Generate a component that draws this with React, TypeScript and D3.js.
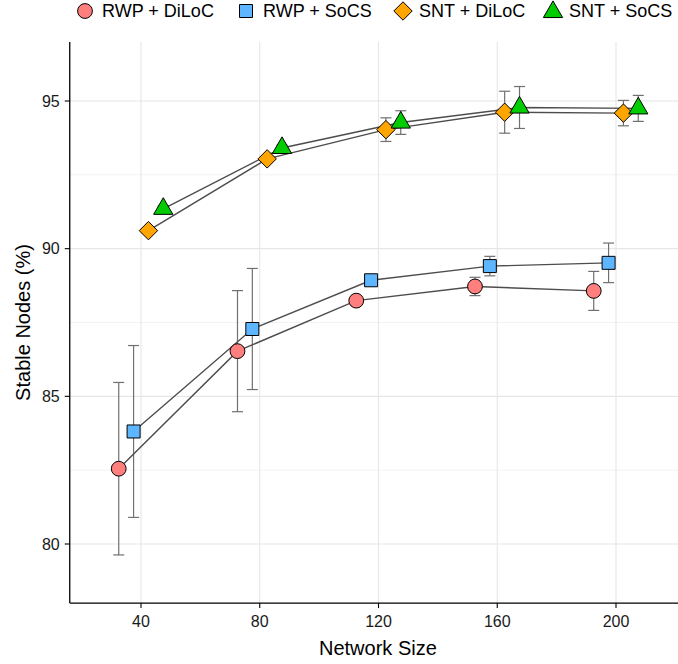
import React from "react";
import * as d3 from "d3";

const sizes = [40, 80, 120, 160, 200];
const seriesNames = ["RWP + DiLoC", "RWP + SoCS", "SNT + DiLoC", "SNT + SoCS"];
const dodge = [-7.5, -2.5, 2.5, 7.5];
const rwpDilocMean = [82.55, 86.53, 88.24, 88.72, 88.57];
const rwpDilocSd = [2.92, 2.05, 0.15, 0.31, 0.66];
const rwpSocsMean = [83.81, 87.28, 88.93, 89.41, 89.52];
const rwpSocsSd = [2.91, 2.05, 0.12, 0.33, 0.67];
const sntDilocMean = [90.61, 93.04, 94.03, 94.62, 94.59];
const sntDilocSd = [0.1, 0.1, 0.4, 0.71, 0.43];
const sntSocsMean = [91.35, 93.41, 94.27, 94.78, 94.75];
const sntSocsSd = [0.1, 0.1, 0.4, 0.71, 0.44];
const xTicks = [40, 80, 120, 160, 200];
const yTicks = [80, 85, 90, 95];
const yMinor = [82.5, 87.5, 92.5];

const means = [rwpDilocMean, rwpSocsMean, sntDilocMean, sntSocsMean];
const sds = [rwpDilocSd, rwpSocsSd, sntDilocSd, sntSocsSd];
const fills = ["#FF7F7F", "#5DB6FF", "#FFA500", "#00CC00"];
const shapes = ["circle", "square", "diamond", "triangle"];

const W = 678;
const H = 664;
const FONT = "'Liberation Sans', Arial, Helvetica, sans-serif";

const x = d3.scaleLinear().domain([40, 200]).range([141, 616]);
const y = d3.scaleLinear().domain([80, 95]).range([544, 101]);
const panelLeft = x(16);
const panelRight = W;
const panelTop = y(97);
const panelBottom = y(78);

function markerPath(shape: string): string {
  if (shape === "circle") return d3.symbol(d3.symbolCircle, Math.PI * 7.4 * 7.4)()!;
  if (shape === "square") return d3.symbol(d3.symbolSquare, 13 * 13)()!;
  if (shape === "triangle") return d3.symbol(d3.symbolTriangle, 160)()!;
  const r = 9.2;
  return `M0,${-r}L${r},0L0,${r}L${-r},0Z`;
}

export default function App() {
  const data = means.map((m, s) =>
    m.map((v, i) => ({ xv: sizes[i] + dodge[s], mean: v, sd: sds[s][i] }))
  );
  const line = d3
    .line<{ xv: number; mean: number }>()
    .x((d) => x(d.xv))
    .y((d) => y(d.mean));

  const legendKeys = [85, 246, 403, 553];
  const legendText = [102, 263, 419, 569];

  return (
    <svg
      width={W}
      height={H}
      style={{ position: "absolute", left: 0, top: 0, background: "#fff" }}
      fontFamily={FONT}
    >
      {/* grid */}
      {yMinor.map((t) => (
        <line key={"ym" + t} x1={panelLeft} x2={panelRight} y1={y(t)} y2={y(t)} stroke="#F2F2F2" strokeWidth={1} />
      ))}
      {yTicks.map((t) => (
        <line key={"yg" + t} x1={panelLeft} x2={panelRight} y1={y(t)} y2={y(t)} stroke="#E6E6E6" strokeWidth={1.1} />
      ))}
      {xTicks.map((t) => (
        <line key={"xg" + t} x1={x(t)} x2={x(t)} y1={panelTop} y2={panelBottom} stroke="#E6E6E6" strokeWidth={1.1} />
      ))}

      {/* error bars */}
      {data.map((ser, s) =>
        ser.map((d, i) => (
          <g key={`e${s}-${i}`} stroke="#707070" strokeWidth={1.2}>
            <line x1={x(d.xv)} x2={x(d.xv)} y1={y(d.mean + d.sd)} y2={y(d.mean - d.sd)} />
            <line x1={x(d.xv) - 5.5} x2={x(d.xv) + 5.5} y1={y(d.mean + d.sd)} y2={y(d.mean + d.sd)} />
            <line x1={x(d.xv) - 5.5} x2={x(d.xv) + 5.5} y1={y(d.mean - d.sd)} y2={y(d.mean - d.sd)} />
          </g>
        ))
      )}

      {/* lines */}
      {data.map((ser, s) => (
        <path key={"l" + s} d={line(ser)!} fill="none" stroke="#4D4D4D" strokeWidth={1.4} />
      ))}

      {/* points */}
      {data.map((ser, s) =>
        ser.map((d, i) => (
          <path
            key={`p${s}-${i}`}
            d={markerPath(shapes[s])}
            transform={`translate(${x(d.xv)},${y(d.mean)})`}
            fill={fills[s]}
            stroke="#000"
            strokeWidth={1}
          />
        ))
      )}

      {/* axes */}
      <line x1={panelLeft} x2={panelLeft} y1={panelTop} y2={panelBottom} stroke="#000" strokeWidth={1.3} />
      <line x1={panelLeft} x2={panelRight} y1={panelBottom} y2={panelBottom} stroke="#000" strokeWidth={1.3} />
      {yTicks.map((t) => (
        <g key={"yt" + t}>
          <line x1={panelLeft - 5} x2={panelLeft} y1={y(t)} y2={y(t)} stroke="#000" strokeWidth={1.1} />
          <text x={panelLeft - 10} y={y(t)} dy="0.36em" textAnchor="end" fontSize={16} fill="#1A1A1A">
            {t}
          </text>
        </g>
      ))}
      {xTicks.map((t) => (
        <g key={"xt" + t}>
          <line x1={x(t)} x2={x(t)} y1={panelBottom} y2={panelBottom + 5} stroke="#000" strokeWidth={1.1} />
          <text x={x(t)} y={panelBottom + 24} textAnchor="middle" fontSize={16} fill="#1A1A1A">
            {t}
          </text>
        </g>
      ))}
      <text x={(panelLeft + panelRight) / 2 + 4} y={655} textAnchor="middle" fontSize={20} fill="#000">
        Network Size
      </text>
      <text
        transform={`translate(30,${(panelTop + panelBottom) / 2}) rotate(-90)`}
        textAnchor="middle"
        fontSize={20}
        fill="#000"
      >
        Stable Nodes (%)
      </text>

      {/* legend */}
      {seriesNames.map((n, s) => (
        <g key={"lg" + s}>
          <path
            d={markerPath(shapes[s])}
            transform={`translate(${legendKeys[s]},${s === 3 ? 12 : 11})`}
            fill={fills[s]}
            stroke="#000"
            strokeWidth={1}
          />
          <text x={legendText[s]} y={17.3} fontSize={18} fill="#000">
            {n}
          </text>
        </g>
      ))}
    </svg>
  );
}
